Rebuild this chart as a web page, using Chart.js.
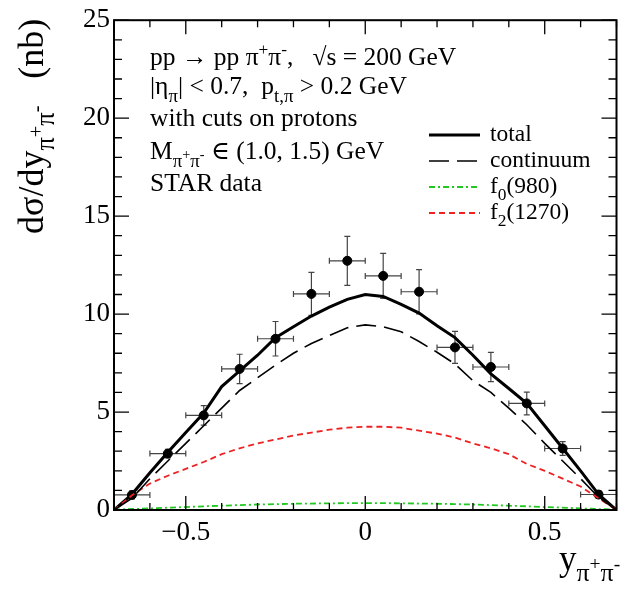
<!DOCTYPE html>
<html>
<head>
<meta charset="utf-8">
<script src="https://cdn.jsdelivr.net/npm/chart.js@4.4.0/dist/chart.umd.min.js"></script>
<style>
  body { margin: 0; background: #fff; }
  #wrap { width: 622px; height: 595px; }
</style>
</head>
<body>
<div id="wrap"><canvas id="chart"></canvas></div>
<script>
// rapidity grid of the model curves
const curveX = [-0.7, -0.65, -0.6, -0.55, -0.5, -0.45, -0.4, -0.35, -0.3, -0.25, -0.2, -0.15, -0.1, -0.05, 0,
                0.05, 0.1, 0.15, 0.2, 0.25, 0.3, 0.35, 0.4, 0.45, 0.5, 0.55, 0.6, 0.65, 0.7];
const totalY     = [0, 0.8, 1.9, 2.95, 3.95, 4.95, 6.3, 7.1, 7.9, 8.8, 9.35, 9.9, 10.35, 10.75, 11.0,
                    10.9, 10.5, 10.05, 9.4, 8.8, 7.9, 6.95, 6.2, 5.45, 4.3, 3.15, 2.0, 0.8, 0];
const continuumY = [0, 0.6, 1.6, 2.5, 3.4, 4.3, 5.2, 6.1, 6.75, 7.4, 8.0, 8.5, 8.9, 9.3, 9.45,
                    9.35, 9.1, 8.6, 8.05, 7.45, 6.6, 6.0, 5.2, 4.35, 3.4, 2.5, 1.6, 0.65, 0];
const f0Y        = [0.02, 0.05, 0.08, 0.12, 0.15, 0.19, 0.22, 0.25, 0.28, 0.3, 0.32, 0.33, 0.34, 0.35, 0.35,
                    0.35, 0.34, 0.33, 0.32, 0.3, 0.28, 0.25, 0.22, 0.19, 0.15, 0.12, 0.08, 0.05, 0.02];
const f2Y        = [0, 0.75, 1.35, 1.75, 2.1, 2.45, 2.85, 3.15, 3.4, 3.6, 3.8, 3.95, 4.1, 4.2, 4.25,
                    4.25, 4.2, 4.05, 3.9, 3.7, 3.4, 3.15, 2.85, 2.35, 2.0, 1.6, 1.2, 0.6, 0];

// STAR data
const dataX    = [-0.65, -0.55, -0.45, -0.35, -0.25, -0.15, -0.05, 0.05, 0.15, 0.25, 0.35, 0.45, 0.55, 0.65];
const dataY    = [0.77, 2.88, 4.83, 7.2, 8.74, 11.03, 12.72, 11.95, 11.14, 8.3, 7.3, 5.44, 3.14, 0.79];
const dataErrY = [0.2, 0.22, 0.5, 0.75, 0.88, 1.1, 1.25, 1.15, 1.13, 0.82, 0.75, 0.58, 0.35, 0.2];
const dataErrX = [0.05, 0.05, 0.05, 0.05, 0.05, 0.05, 0.05, 0.05, 0.05, 0.05, 0.05, 0.05, 0.05, 0.05];

const xTicks = [-0.5, 0, 0.5];
const yTicks = [0, 5, 10, 15, 20, 25];

const SERIF = '"Liberation Serif", "DejaVu Serif", serif';
const GREEN = '#22c822';
const RED = '#ee2222';

function pts(xs, ys) { return xs.map((x, i) => ({ x: x, y: ys[i] })); }

// draws text made of normal / sub / sup pieces, returns end x
function rich(ctx, x, y, parts, size) {
  parts.forEach(p => {
    let s = size, dy = 0;
    if (p.m === 'sub') { s = size * 0.74; dy = size * 0.3; }
    if (p.m === 'sup') { s = size * 0.68; dy = -size * 0.38; }
    if (p.m === 'subsup') { s = size * 0.56; dy = size * 0.3 - size * 0.3; }
    ctx.font = s + 'px ' + SERIF;
    ctx.fillText(p.t, x, y + dy);
    x += ctx.measureText(p.t).width;
  });
  return x;
}

const decor = {
  id: 'decor',
  beforeDatasetsDraw(chart) {
    const { ctx, scales: { x, y } } = chart;
    ctx.save();
    ctx.strokeStyle = '#444';
    ctx.lineWidth = 1.2;
    dataX.forEach((v, i) => {
      const px = x.getPixelForValue(v), py = y.getPixelForValue(dataY[i]);
      const xl = x.getPixelForValue(v - dataErrX[i]), xr = x.getPixelForValue(v + dataErrX[i]);
      const yt = y.getPixelForValue(dataY[i] + dataErrY[i]), yb = y.getPixelForValue(dataY[i] - dataErrY[i]);
      ctx.beginPath();
      ctx.moveTo(xl, py); ctx.lineTo(xr, py);
      ctx.moveTo(xl, py - 3); ctx.lineTo(xl, py + 3);
      ctx.moveTo(xr, py - 3); ctx.lineTo(xr, py + 3);
      ctx.moveTo(px, yt); ctx.lineTo(px, yb);
      ctx.moveTo(px - 3, yt); ctx.lineTo(px + 3, yt);
      ctx.moveTo(px - 3, yb); ctx.lineTo(px + 3, yb);
      ctx.stroke();
    });
    ctx.restore();
  },
  afterDraw(chart) {
    const { ctx, chartArea: a, scales: { x, y } } = chart;
    ctx.save();
    // frame
    ctx.strokeStyle = '#000';
    ctx.lineWidth = 2;
    ctx.strokeRect(a.left, a.top, a.right - a.left, a.bottom - a.top);
    // ticks on all sides
    ctx.lineWidth = 1.3;
    ctx.beginPath();
    for (let k = -7; k <= 7; k++) {
      const v = k / 10;
      const px = x.getPixelForValue(v);
      const len = (k % 5 === 0) ? 14 : 7;
      ctx.moveTo(px, a.bottom); ctx.lineTo(px, a.bottom - len);
      ctx.moveTo(px, a.top); ctx.lineTo(px, a.top + len);
    }
    for (let v = 0; v <= 25; v++) {
      const py = y.getPixelForValue(v);
      const len = (v % 5 === 0) ? 15 : 8;
      ctx.moveTo(a.left, py); ctx.lineTo(a.left + len, py);
      ctx.moveTo(a.right, py); ctx.lineTo(a.right - len, py);
    }
    ctx.stroke();

    // annotation block
    ctx.fillStyle = '#000';
    ctx.textBaseline = 'alphabetic';
    ctx.textAlign = 'left';
    const fs = 25.5, tx = 150;
    rich(ctx, tx, 65, [{ t: 'pp \u2192 pp \u03c0' }, { t: '+', m: 'sup' }, { t: '\u03c0' }, { t: '-', m: 'sup' },
      { t: ',   \u221as = 200 GeV' }], fs);
    rich(ctx, tx, 94, [{ t: '|\u03b7' }, { t: '\u03c0', m: 'sub' }, { t: '| < 0.7,  p' }, { t: 't,\u03c0', m: 'sub' },
      { t: ' > 0.2 GeV' }], fs);
    rich(ctx, tx, 126, [{ t: 'with cuts on protons' }], fs);
    rich(ctx, tx, 159, [{ t: 'M' }, { t: '\u03c0', m: 'sub' }, { t: '+', m: 'subsup' }, { t: '\u03c0', m: 'sub' },
      { t: '-', m: 'subsup' }, { t: ' \u2208 (1.0, 1.5) GeV' }], fs);
    rich(ctx, tx, 191, [{ t: 'STAR data' }], fs);

    // legend
    const lx0 = 429, lx1 = 480, lt = 490, lfs = 23.5;
    const legend = [
      { y: 141, w: 3, c: '#000', d: [], parts: [{ t: 'total' }] },
      { y: 167, w: 1.6, c: '#000', d: [20, 8], parts: [{ t: 'continuum' }] },
      { y: 193, w: 1.8, c: GREEN, d: [6, 3, 2, 3], parts: [{ t: 'f' }, { t: '0', m: 'sub' }, { t: '(980)' }] },
      { y: 219, w: 1.8, c: RED, d: [6, 4], parts: [{ t: 'f' }, { t: '2', m: 'sub' }, { t: '(1270)' }] }
    ];
    legend.forEach(e => {
      ctx.strokeStyle = e.c;
      ctx.lineWidth = e.w;
      ctx.setLineDash(e.d);
      ctx.beginPath();
      ctx.moveTo(lx0, e.y - 6); ctx.lineTo(lx1, e.y - 6);
      ctx.stroke();
      ctx.setLineDash([]);
      rich(ctx, lt, e.y, e.parts, lfs);
    });

    // axis titles
    ctx.save();
    ctx.translate(43, 234);
    ctx.rotate(-Math.PI / 2);
    rich(ctx, 0, 0, [{ t: 'd\u03c3/dy' }, { t: '\u03c0', m: 'sub' }, { t: '+', m: 'subsup' }, { t: '\u03c0', m: 'sub' },
      { t: '-', m: 'subsup' }, { t: '   (nb)' }], 36);
    ctx.restore();
    rich(ctx, 559, 570, [{ t: 'y' }, { t: '\u03c0', m: 'sub' }, { t: '+', m: 'subsup' }, { t: '\u03c0', m: 'sub' },
      { t: '-', m: 'subsup' }], 35);
    ctx.restore();
  }
};

new Chart(document.getElementById('chart'), {
  type: 'scatter',
  data: {
    datasets: [
      { label: 'continuum', data: pts(curveX, continuumY), showLine: true, borderColor: '#000', borderWidth: 1.6,
        borderDash: [20, 8], pointRadius: 0, fill: false },
      { label: 'f0(980)', data: pts(curveX, f0Y), showLine: true, borderColor: GREEN, borderWidth: 1.8,
        borderDash: [6, 3, 2, 3], pointRadius: 0, fill: false },
      { label: 'f2(1270)', data: pts(curveX, f2Y), showLine: true, borderColor: RED, borderWidth: 1.8,
        borderDash: [6, 4], pointRadius: 0, fill: false },
      { label: 'total', data: pts(curveX, totalY), showLine: true, borderColor: '#000', borderWidth: 3,
        pointRadius: 0, fill: false },
      { label: 'STAR data', data: pts(dataX, dataY), showLine: false, backgroundColor: '#000', borderColor: '#000',
        pointRadius: 4.5, pointStyle: 'circle' }
    ]
  },
  options: {
    responsive: true,
    maintainAspectRatio: false,
    animation: false,
    layout: { padding: { top: 16, right: 5, left: 0, bottom: 0 } },
    plugins: { legend: { display: false }, tooltip: { enabled: false } },
    scales: {
      x: {
        type: 'linear', min: -0.7, max: 0.7,
        grid: { display: false, drawTicks: false }, border: { display: false },
        afterBuildTicks: s => { s.ticks = xTicks.map(v => ({ value: v })); },
        afterFit: s => { s.height = 85; },
        ticks: { padding: 7, color: '#000', font: { family: SERIF, size: 27 },
          callback: v => v < 0 ? '\u2212' + Math.abs(v) : String(v) }
      },
      y: {
        min: 0, max: 25,
        grid: { display: false, drawTicks: false }, border: { display: false },
        afterBuildTicks: s => { s.ticks = yTicks.map(v => ({ value: v })); },
        afterFit: s => { s.width = 114; },
        ticks: { padding: 4, color: '#000', font: { family: SERIF, size: 27 } }
      }
    }
  },
  plugins: [decor]
});
</script>
</body>
</html>
